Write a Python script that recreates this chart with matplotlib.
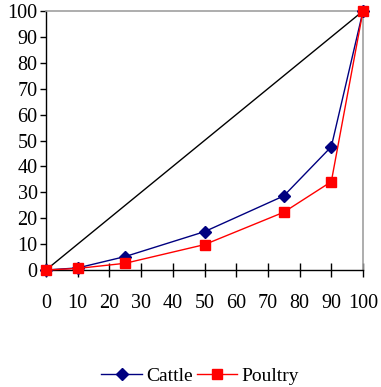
import matplotlib
matplotlib.use("Agg")
import matplotlib.pyplot as plt

x_vals = [0, 10, 25, 50, 75, 90, 100]
cattle = [0, 0.8, 5.2, 14.8, 28.6, 47.6, 100]
poultry = [0, 0.6, 2.6, 9.8, 22.3, 34.1, 100]
equality_x = [0, 100]
equality_y = [0, 100]
ticks = list(range(0, 101, 10))

plt.rcParams['font.family'] = ['Liberation Serif', 'DejaVu Serif']

fig = plt.figure(figsize=(3.81, 3.87), dpi=100)
ax = fig.add_axes([46/381, 1-270/387, (363-46)/381, (270-11)/387])

ax.plot(equality_x, equality_y, color='black', lw=1.0, zorder=2)
ax.plot(x_vals, cattle, color='#000080', lw=1.0, marker='D', markersize=6,
        markerfacecolor='#000080', markeredgecolor='#000080', label='Cattle', zorder=3)
ax.plot(x_vals, poultry, color='#FF0000', lw=1.0, marker='s', markersize=7.5,
        markerfacecolor='#FF0000', markeredgecolor='#FF0000', label='Poultry', zorder=4)

ax.set_xlim(0, 100)
ax.set_ylim(0, 100)
ax.set_xticks(ticks)
ax.set_yticks(ticks)
ax.tick_params(axis='x', direction='inout', length=10, width=1, pad=12, labelsize=14.5)
ax.tick_params(axis='y', direction='out', length=4, width=1, pad=2, labelsize=14.5)
for s in ['top', 'right']:
    ax.spines[s].set_color('#A0A0A0')
    ax.spines[s].set_linewidth(1.2)
for s in ['left', 'bottom']:
    ax.spines[s].set_color('black')
    ax.spines[s].set_linewidth(1.0)
for spine in ax.spines.values():
    spine.set_clip_on(False)
for line in ax.lines:
    line.set_clip_on(False)

leg = fig.legend(loc='center', bbox_to_anchor=(200/381, 1-376/387), ncol=2, frameon=False,
                 fontsize=14, handlelength=2.1, columnspacing=0.2, handletextpad=0.2,
                 borderaxespad=0)

fig.savefig('out.png', dpi=100)
